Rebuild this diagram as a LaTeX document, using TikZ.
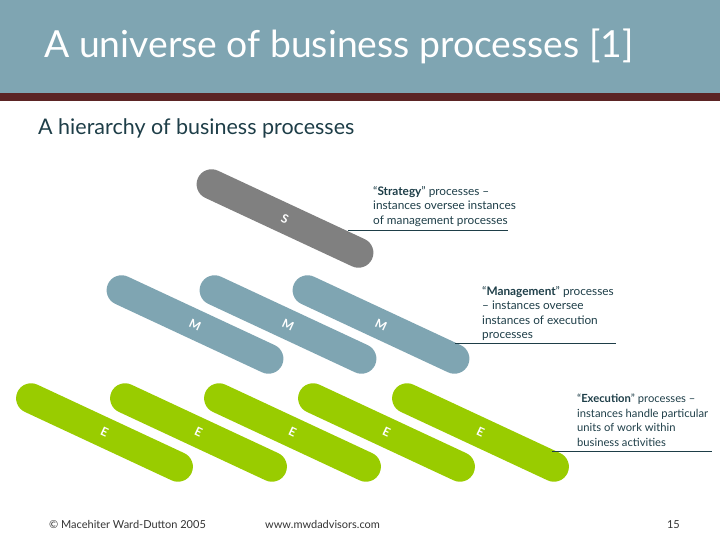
\documentclass[tikz,border=0pt]{standalone}
\usepackage{fontspec}
\setmainfont{Lato}
\usetikzlibrary{shapes.misc}
\definecolor{bandblue}{HTML}{7FA5B2}
\definecolor{bandred}{HTML}{5B2424}
\definecolor{stratgrey}{HTML}{808080}
\definecolor{execgreen}{HTML}{99CC00}
\definecolor{noteteal}{HTML}{1E3E48}
\definecolor{footgrey}{HTML}{333333}

\begin{document}
\begin{tikzpicture}[x=1pt, y=-1pt,
        capsule/.style={rounded rectangle, minimum width=192pt, minimum height=30pt,
            inner sep=0pt, rotate=-25, text=white, font=\fontsize{12}{12}\selectfont\bfseries},
        note/.style={anchor=north west, align=left, inner sep=0pt, text=noteteal,
            font=\fontsize{11.8}{14.5}\selectfont},
        pointer/.style={draw=noteteal, line width=0.8pt},
        footer/.style={anchor=base west, inner sep=0pt, text=footgrey, font=\fontsize{11}{11}\selectfont}]
        \useasboundingbox (0,0) rectangle (720,540);
        % header band
        \fill[bandblue] (0,0) rectangle (720,93);
        \fill[bandred] (0,93) rectangle (720,101);
        \node[anchor=base west, inner sep=0pt, text=white, font=\fontsize{37.3}{37.3}\selectfont] (title) at (44,58) {A universe of business processes [1]};
        \node[anchor=base west, inner sep=0pt, text=noteteal, font=\fontsize{21.5}{21.5}\selectfont] (subtitle) at (38,135) {A hierarchy of business processes};
        % strategy
        \node[capsule, fill=stratgrey] (S) at (285, 218.5) {S};
        % management
        \node[capsule, fill=bandblue] (M1) at (195, 324.5) {M};
        \node[capsule, fill=bandblue] (M2) at (288, 324.5) {M};
        \node[capsule, fill=bandblue] (M3) at (381, 324.5) {M};
        % execution
        \node[capsule, fill=execgreen] (E1) at (104.5, 432.5) {E};
        \node[capsule, fill=execgreen] (E2) at (198.5, 432.5) {E};
        \node[capsule, fill=execgreen] (E3) at (292.5, 432.5) {E};
        \node[capsule, fill=execgreen] (E4) at (386.5, 432.5) {E};
        \node[capsule, fill=execgreen] (E5) at (480.5, 432.5) {E};
        % notes
        \node[note] (Snote) at (373, 186) {``\textbf{Strategy}'' processes --\\instances oversee instances\\of management processes};
        \node[note] (Mnote) at (482, 286) {``\textbf{Management}'' processes\\-- instances oversee\\instances of execution\\processes};
        \node[note, font=\fontsize{11.2}{14.5}\selectfont] (Enote) at (577, 394) {``\textbf{Execution}'' processes --\\instances handle particular\\units of work within\\business activities};
        \coordinate (Stip) at (348, 230);
        \coordinate (Send) at (508, 230);
        \coordinate (Mtip) at (455, 343);
        \coordinate (Mend) at (616, 343);
        \coordinate (Etip) at (552, 451);
        \coordinate (Eend) at (712, 451);
        \draw[pointer] (Stip) -- (Send);
        \draw[pointer] (Mtip) -- (Mend);
        \draw[pointer] (Etip) -- (Eend);
        % footer
        \node[footer] (copy) at (49, 528) {\textcopyright{} Macehiter Ward-Dutton 2005};
        \node[footer] (web) at (265, 528) {www.mwdadvisors.com};
        \node[footer, anchor=base east] (page) at (680, 528) {15};
\end{tikzpicture}
\end{document}
